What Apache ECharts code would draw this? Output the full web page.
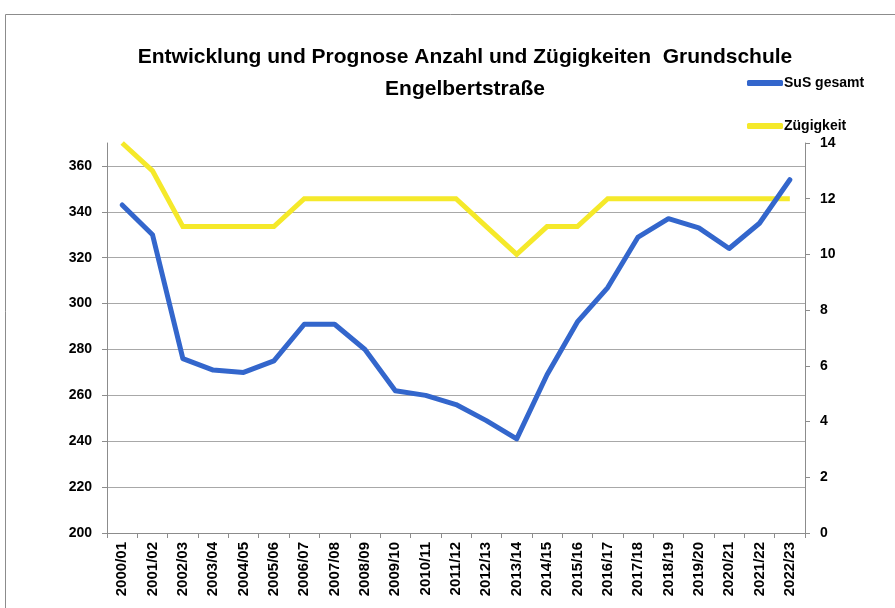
<!DOCTYPE html>
<html>
<head>
<meta charset="utf-8">
<script src="https://cdn.jsdelivr.net/npm/echarts@6/dist/echarts.min.js"></script>
<style>
html,body{margin:0;padding:0;background:#fff;}
#chart{width:895px;height:608px;}
</style>
</head>
<body>
<div id="chart"></div>
<script>
const categories = ['2000/01','2001/02','2002/03','2003/04','2004/05','2005/06','2006/07','2007/08','2008/09','2009/10','2010/11','2011/12','2012/13','2013/14','2014/15','2015/16','2016/17','2017/18','2018/19','2019/20','2020/21','2021/22','2022/23'];
const susGesamt = [343,330,276,271,270,275,291,291,280,262,260,256,249,241,269,292,307,329,337,333,324,335,354];
const zuegigkeit = [14,13,11,11,11,11,12,12,12,12,12,12,11,10,11,11,12,12,12,12,12,12,12];
const leftTicks = {min:200, max:370, interval:20};
const rightTicks = {min:0, max:14, interval:2};

const FONT = '"Liberation Sans", "DejaVu Sans", sans-serif';
const chart = echarts.init(document.getElementById('chart'), null, {renderer:'canvas'});
chart.setOption({
  animation:false,
  backgroundColor:'#fff',
  textStyle:{fontFamily:FONT},
  graphic:[{type:'rect', shape:{x:5.5,y:14.5,width:900,height:620}, style:{fill:'none',stroke:'#8c8c8c',lineWidth:1}, silent:true, z:-1}],
  title:{
    text:'Entwicklung und Prognose Anzahl und Zügigkeiten  Grundschule\nEngelbertstraße',
    left:460, top:36, textAlign:'center',
    textStyle:{fontFamily:FONT, fontWeight:'bold', fontSize:21, color:'#000', lineHeight:32}
  },
  legend:{
    orient:'vertical', left:742, top:71, itemGap:29,
    itemWidth:36, itemHeight:6, icon:'roundRect',
    textStyle:{fontFamily:FONT, fontWeight:'bold', fontSize:14, color:'#000', padding:[0,0,0,-4]},
    data:['SuS gesamt','Zügigkeit']
  },
  grid:{left:107, right:90, top:143, bottom:75, containLabel:false},
  xAxis:{
    type:'category', data:categories, boundaryGap:true,
    axisLine:{lineStyle:{color:'#8c8c8c', width:1}},
    axisTick:{show:true, length:5, alignWithLabel:false, lineStyle:{color:'#8c8c8c'}},
    axisLabel:{rotate:90, interval:0, margin:9, fontFamily:FONT, fontWeight:'bold', fontSize:15, color:'#000'},
    splitLine:{show:false}
  },
  yAxis:[{
    type:'value', position:'left', min:leftTicks.min, max:leftTicks.max, interval:leftTicks.interval,
    axisLine:{show:true, lineStyle:{color:'#8c8c8c'}},
    axisTick:{show:true, length:5, lineStyle:{color:'#8c8c8c'}},
    axisLabel:{showMaxLabel:false, margin:15, fontFamily:FONT, fontWeight:'bold', fontSize:14, color:'#000'},
    splitLine:{show:true, showMaxLine:false, lineStyle:{color:'#a8a8a8', width:1}}
  },{
    type:'value', position:'right', min:rightTicks.min, max:rightTicks.max, interval:rightTicks.interval,
    axisLine:{show:true, lineStyle:{color:'#8c8c8c'}},
    axisTick:{show:true, length:5, lineStyle:{color:'#8c8c8c'}},
    axisLabel:{margin:15, fontFamily:FONT, fontWeight:'bold', fontSize:14, color:'#000'},
    splitLine:{show:false}
  }],
  series:[{
    name:'SuS gesamt', type:'line', yAxisIndex:0, data:susGesamt,
    showSymbol:false, symbol:'none', color:'#3366cc',
    lineStyle:{color:'#3366cc', width:5, cap:'round', join:'round'}, z:3
  },{
    name:'Zügigkeit', type:'line', yAxisIndex:1, data:zuegigkeit,
    showSymbol:false, symbol:'none', color:'#f5e92a',
    lineStyle:{color:'#f5e92a', width:5, cap:'butt', join:'miter'}, z:2
  }]
});
</script>
</body>
</html>
